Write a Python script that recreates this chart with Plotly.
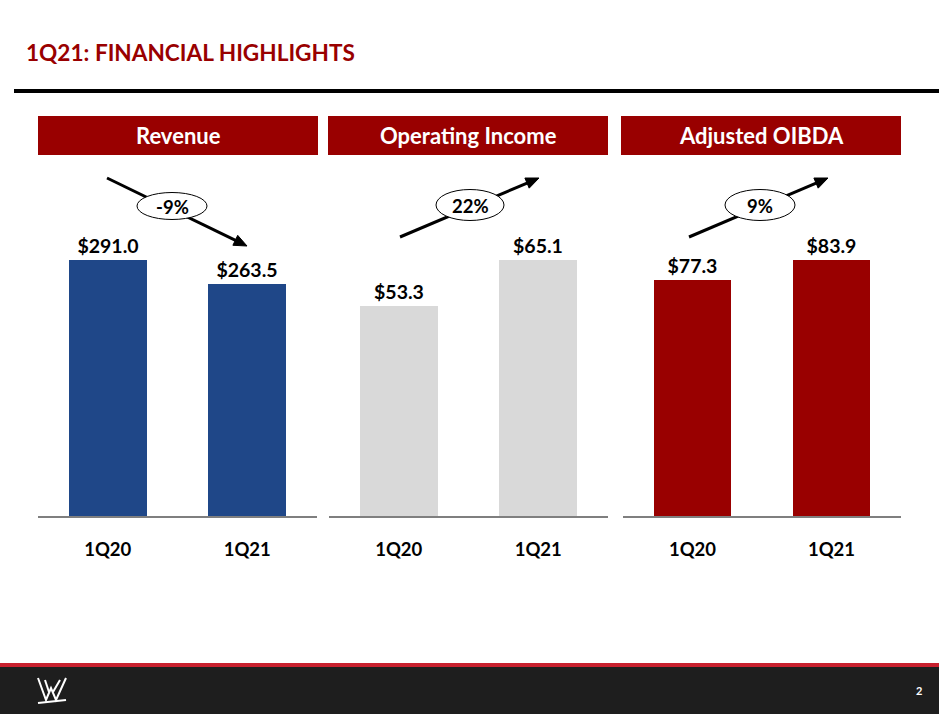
import math
import plotly.graph_objects as go

# ---------------- data ----------------
periods = ["1Q20", "1Q21"]
panel_titles = ["Revenue", "Operating Income", "Adjusted OIBDA"]
revenue = [291.0, 263.5]
operating_income = [53.3, 65.1]
adjusted_oibda = [77.3, 83.9]
series = [revenue, operating_income, adjusted_oibda]
bar_colors = ["#1F4788", "#D9D9D9", "#990000"]
page_title = "1Q21: FINANCIAL HIGHLIGHTS"
page_number = "2"

W, H = 939, 714
FONT = "Lato"
DARK_RED = "#990000"


def px(x):
    return x / W


def py(y):
    return 1 - y / H


fig = go.Figure()

# panel geometry (pixels)
panels_x = [(38, 317), (329, 608), (623, 901)]
header_x = [(38, 318), (328, 608), (621, 901)]
base_y, top_y = 516, 160
max_px = 256  # pixel height of the larger bar

# growth arrows: (tail, head) in pixels; ellipse centre & size
arrows = [((107, 178), (247, 246)), ((400, 237), (539, 178)), ((689, 237), (828, 178))]
ellipses = [((172, 206), 70, 27), ((470, 205), 68, 31), ((760, 205), 70, 31)]

shapes = []
annotations = []

for i, vals in enumerate(series):
    n = "" if i == 0 else str(i + 1)
    fig.add_trace(go.Bar(
        x=periods, y=vals, xaxis="x" + n, yaxis="y" + n,
        marker=dict(color=bar_colors[i], line=dict(width=0)),
        width=0.56,
        texttemplate="$%{y:.1f}", textposition="outside",
        textfont=dict(family=FONT, size=19.5, color="black", weight="bold"),
        cliponaxis=False, showlegend=False, hoverinfo="skip",
    ))
    x0, x1 = panels_x[i]
    rng = max(vals) * (base_y - top_y) / max_px
    fig.update_layout(**{
        "xaxis" + n: dict(
            domain=[px(x0), px(x1)], anchor="y" + n, type="category",
            range=[-0.5, 1.5], showline=True, linecolor="#7F7F7F", linewidth=2,
            showgrid=False, zeroline=False, ticks="",
            ticklabelstandoff=16,
            tickfont=dict(family=FONT, size=18.5, color="black", weight="bold"),
            fixedrange=True,
        ),
        "yaxis" + n: dict(
            domain=[py(base_y), py(top_y)], anchor="x" + n,
            range=[0, rng], visible=False, fixedrange=True,
        ),
    })

    # header box
    hx0, hx1 = header_x[i]
    shapes.append(dict(type="rect", xref="paper", yref="paper",
                       x0=px(hx0), x1=px(hx1), y0=py(155), y1=py(116),
                       fillcolor=DARK_RED, line=dict(width=0), layer="above"))
    annotations.append(dict(text=panel_titles[i], xref="paper", yref="paper",
                            x=px((hx0 + hx1) / 2), y=py(135.5), showarrow=False,
                            xanchor="center", yanchor="middle",
                            font=dict(family=FONT, size=22, color="white", weight="bold")))

    # growth arrow (line + head)
    (tx, ty), (hx, hy) = arrows[i]
    dx, dy = hx - tx, hy - ty
    L = math.hypot(dx, dy)
    ux, uy = dx / L, dy / L
    hl, hw = 13, 5.5
    bx, by = hx - ux * hl, hy - uy * hl
    shapes.append(dict(type="line", xref="paper", yref="paper",
                       x0=px(tx), y0=py(ty), x1=px(bx + ux * 2), y1=py(by + uy * 2),
                       line=dict(color="black", width=3), layer="above"))
    p1 = (bx - uy * hw, by + ux * hw)
    p2 = (bx + uy * hw, by - ux * hw)
    path = "M {},{} L {},{} L {},{} Z".format(px(hx), py(hy), px(p1[0]), py(p1[1]), px(p2[0]), py(p2[1]))
    shapes.append(dict(type="path", xref="paper", yref="paper", path=path,
                       fillcolor="black", line=dict(color="black", width=1), layer="above"))

    # ellipse with growth label
    (cx, cy), ew, eh = ellipses[i]
    shapes.append(dict(type="circle", xref="paper", yref="paper",
                       x0=px(cx - ew / 2), x1=px(cx + ew / 2),
                       y0=py(cy + eh / 2), y1=py(cy - eh / 2),
                       fillcolor="white", line=dict(color="black", width=1), layer="above"))
    growth = round((vals[1] / vals[0] - 1) * 100)
    annotations.append(dict(text="{}%".format(growth), xref="paper", yref="paper",
                            x=px(cx), y=py(cy + 1), showarrow=False,
                            xanchor="center", yanchor="middle",
                            font=dict(family=FONT, size=18.5, color="black", weight="bold")))

# title and rule
annotations.append(dict(text=page_title, xref="paper", yref="paper",
                        x=px(24), y=py(53), xanchor="left", yanchor="middle", showarrow=False,
                        font=dict(family=FONT, size=22.6, color=DARK_RED, weight="bold")))
shapes.append(dict(type="line", xref="paper", yref="paper", x0=px(14), x1=1,
                   y0=py(91), y1=py(91), line=dict(color="black", width=4)))

# footer
shapes.append(dict(type="rect", xref="paper", yref="paper", x0=0, x1=1,
                   y0=0, y1=py(667), fillcolor="#1E1E1E", line=dict(width=0)))
shapes.append(dict(type="rect", xref="paper", yref="paper", x0=0, x1=1,
                   y0=py(667), y1=py(663), fillcolor="#C8202E", line=dict(width=0)))

# simple WWE-style "W" mark (white strokes)
logo_strokes = [
    [(38, 678), (46, 700), (51, 688), (56, 700), (66, 678)],
    [(45, 680), (49, 692)],
    [(60, 680), (53, 692)],
    [(38, 703), (66, 700)],
]
for stroke in logo_strokes:
    d = "M " + " L ".join("{},{}".format(px(x), py(y)) for x, y in stroke)
    shapes.append(dict(type="path", xref="paper", yref="paper", path=d,
                       line=dict(color="white", width=2)))

annotations.append(dict(text=page_number, xref="paper", yref="paper",
                        x=px(919), y=py(690), xanchor="center", yanchor="middle", showarrow=False,
                        font=dict(family=FONT, size=11, color="white", weight="bold")))

fig.update_layout(
    width=W, height=H, autosize=False,
    margin=dict(l=0, r=0, t=0, b=0),
    paper_bgcolor="white", plot_bgcolor="white",
    shapes=shapes, annotations=annotations,
    showlegend=False, bargap=0,
)

fig.write_html("out.html")
